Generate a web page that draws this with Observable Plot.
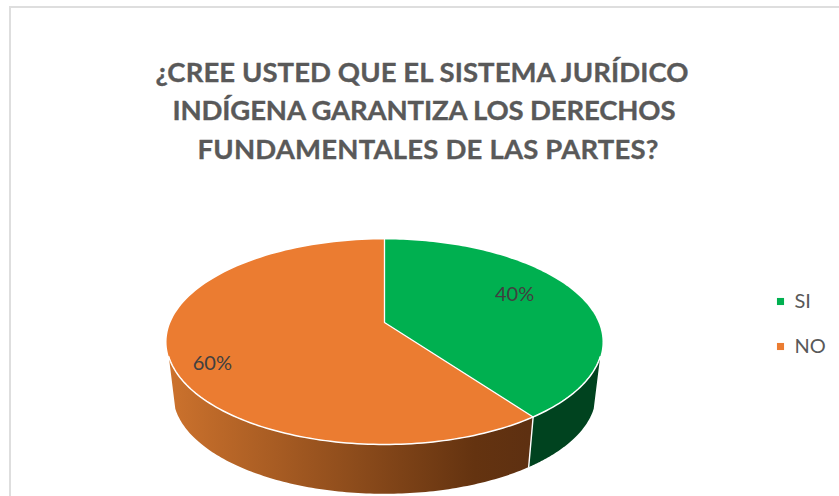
<!DOCTYPE html>
<html>
<head>
<meta charset="utf-8">
<script src="https://cdn.jsdelivr.net/npm/d3@7"></script>
<script src="https://cdn.jsdelivr.net/npm/@observablehq/plot@0.6"></script>
<style>
html,body{margin:0;padding:0;background:#fff;overflow:hidden}
svg{display:block}
</style>
</head>
<body>
<div id="chart"></div>
<script>
// Data
const categories = ["SI", "NO"];
const shares = [40, 60];
const labels = ["40%", "60%"];
const titleLines = [
  "¿CREE USTED QUE EL SISTEMA JURÍDICO",
  "INDÍGENA GARANTIZA LOS DERECHOS",
  "FUNDAMENTALES DE LAS PARTES?"
];
const topColors = ["#00B050", "#EB7C31"];
const wallFills = ["#00431F", "url(#wallOrange)"];

// Perspective of the disc
const cx = 384, cy = 322, A = 214, B = 98.8, k = 0.19;
const floorCy = 375, floorScale = 0.97;
const rad = d => d * Math.PI / 180;
function project(deg, r = 1, baseY = cy, s = 1) {
  const u = r * Math.sin(rad(deg)), v = -r * Math.cos(rad(deg)), w = 1 - k * v;
  return {x: cx + s * A * u / w, y: baseY + s * B * v / w};
}
const total = d3.sum(shares);
let acc = 0;
const slices = categories.map((c, i) => {
  const a0 = acc / total * 360; acc += shares[i];
  return {c, i, a0, a1: acc / total * 360};
});
const arc = (a0, a1, fn) => d3.range(0, 121).map(j => fn(a0 + (a1 - a0) * j / 120));

const topRows = s => [{x: cx, y: cy}, ...arc(s.a0, s.a1, a => project(a)), {x: cx, y: cy}];
const wallStart = 109, wallEnd = 251;
const wallRows = s => {
  const a0 = Math.max(s.a0, wallStart), a1 = Math.min(s.a1, wallEnd);
  return [
    ...arc(a0, a1, a => project(a)),
    ...arc(a1, a0, a => project(a, 1, floorCy, floorScale))
  ];
};
const seam = [project(slices[0].a1), project(slices[0].a1, 1, floorCy, floorScale)];
const rim = arc(wallStart, wallEnd, a => project(a));

const labelPolar = [[65, 0.709], [242.7, 0.839]];
const labelRows = labels.map((t, i) => ({t, ...project(labelPolar[i][0], labelPolar[i][1])}));

const titleWidths = [533, 503, 461];
const titleRows = titleLines.map((t, i) => ({t, x: [421.5, 423.5, 427.5][i], y: [73, 111, 150][i]}));
const legendRows = categories.map((c, i) => ({c, i, x: 780, y: [301, 346][i]}));

const defs = () => {
  const svg = d3.create("svg:defs");
  const g = svg.append("linearGradient").attr("id", "wallOrange")
    .attr("gradientUnits", "userSpaceOnUse")
    .attr("x1", 168).attr("x2", 528).attr("y1", 0).attr("y2", 0);
  g.append("stop").attr("offset", "0%").attr("stop-color", "#CC722D");
  g.append("stop").attr("offset", "85%").attr("stop-color", "#643310");
  g.append("stop").attr("offset", "100%").attr("stop-color", "#5E3011");
  return svg.node();
};

const frame = [{x1: 10, x2: 900, y1: 7, y2: 600}];
const font = "Lato, 'Open Sans', sans-serif";

const chart = Plot.plot({
  width: 839, height: 496,
  margin: 0,
  x: {domain: [0, 839], range: [0, 839], axis: null},
  y: {domain: [0, 496], range: [0, 496], axis: null},
  style: {background: "#fff", overflow: "hidden"},
  marks: [
    defs,
    Plot.rect(frame, {x1: "x1", x2: "x2", y1: "y1", y2: "y2", fill: "#fff", stroke: "#DEDEDE", strokeWidth: 2}),
    ...slices.map(s => Plot.line(wallRows(s), {x: "x", y: "y", fill: wallFills[s.i], stroke: "none", curve: "linear-closed"})),
    Plot.line(seam, {x: "x", y: "y", stroke: "#fff", strokeWidth: 1.4}),
    ...slices.map(s => Plot.line(topRows(s), {x: "x", y: "y", fill: topColors[s.i], stroke: "none", curve: "linear-closed"})),
    Plot.line(rim, {x: "x", y: "y", stroke: "#fff", strokeWidth: 1.5}),
    Plot.line([project(0), {x: cx, y: cy}, project(slices[0].a1)], {x: "x", y: "y", stroke: "#fff", strokeWidth: 1.3}),
    Plot.text(labelRows, {x: "x", y: "y", text: "t", fill: "#404040", fontSize: 20, fontFamily: font}),
    Plot.text(titleRows, {x: "x", y: "y", text: "t", fill: "#595959", stroke: "#595959", strokeWidth: 0.35, fontSize: 27.5, fontWeight: 700, fontFamily: font, className: "chart-title"}),
    Plot.dot(legendRows, {x: "x", y: "y", symbol: "square", r: 4, fill: d => topColors[d.i], stroke: "none"}),
    Plot.text(legendRows, {x: d => d.x + 14, y: "y", text: "c", textAnchor: "start", fill: "#595959", fontSize: 20, fontFamily: font})
  ]
});
chart.querySelectorAll(".chart-title text").forEach((el, i) => {
  el.setAttribute("textLength", titleWidths[i]);
  el.setAttribute("lengthAdjust", "spacing");
});
document.getElementById("chart").append(chart);
</script>
</body>
</html>
